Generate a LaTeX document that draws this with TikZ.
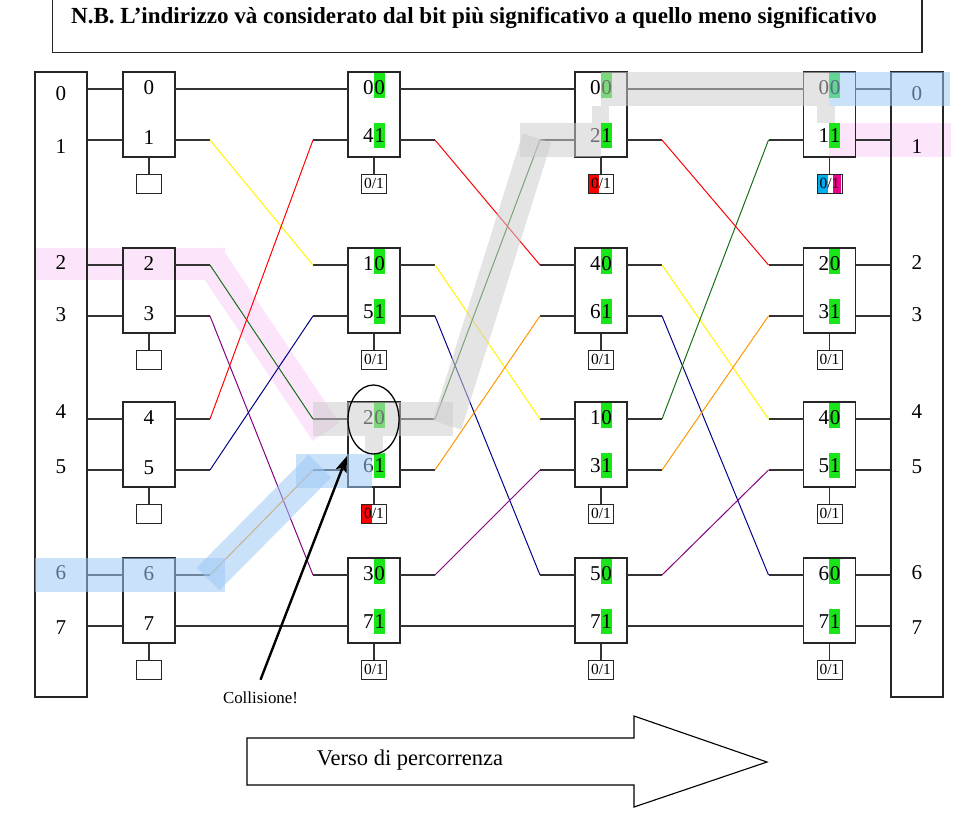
\documentclass[tikz,border=0pt]{standalone}
\usepackage{fontspec}
\setmainfont{Liberation Serif}
\usetikzlibrary{calc,shapes.geometric,arrows.meta}

\definecolor{hlgreen}{RGB}{24,230,24}
\definecolor{hlblue}{RGB}{158,200,246}
\definecolor{hlgray}{RGB}{205,205,205}
\definecolor{hlpink}{RGB}{252,228,251}
\definecolor{wyellow}{RGB}{255,245,0}
\definecolor{wred}{RGB}{255,0,0}
\definecolor{wnavy}{RGB}{0,0,140}
\definecolor{wpurple}{RGB}{128,0,128}
\definecolor{wgreen}{RGB}{20,110,20}
\definecolor{worange}{RGB}{255,150,0}

% one hop between two stages: short stubs, coloured slant
\newcommand{\hop}[3]{%
  \draw[link] (#1) -- ++(35,0);
  \draw[link] (#2) -- ++(-35,0);
  \draw[wire,#3] ($(#1)+(35,0)$) -- ($(#2)+(-35,0)$);
}

\begin{document}
\begin{tikzpicture}[x=0.025cm, y=-0.025cm,
  switchbox/.style={draw=black!85, line width=0.9pt, minimum width=1.3cm, minimum height=2.125cm, inner sep=0pt},
  colbox/.style={draw=black!85, line width=0.9pt, minimum width=1.3cm, minimum height=15.625cm, inner sep=0pt},
  bitbox/.style={draw=black!85, line width=0.7pt, minimum width=0.625cm, minimum height=0.475cm, inner sep=0pt, font=\fontsize{11}{11}\selectfont},
  digit/.style={inner sep=0pt, font=\fontsize{15}{15}\selectfont},
  link/.style={draw=black!80, line width=0.9pt},
  wire/.style={line width=0.7pt},
  glow/.style={opacity=0.55}]

\useasboundingbox (0,0) rectangle (979,817);

% the note at the top
\node[draw=black!85, line width=0.9pt, minimum width=21.725cm, minimum height=1.5cm, anchor=south west] (notebox) at (52,53) {};
\node[font=\bfseries\fontsize{16.4}{18}\selectfont] (nota) at (474,18) {N.B. L’indirizzo và considerato dal bit più significativo a quello meno significativo};

% pink route (behind everything)
\fill[hlpink] (35,248) rectangle (225,280);
\draw[hlpink, line width=0.8cm] (208,256) -- (326,432);
\fill[hlpink] (829,123) rectangle (951,157);

% green bits and coloured flags
\foreach \xx in {374,601,829.5}
  \foreach \yy in {72,248,402,558} {
    \fill[hlgreen] (\xx-0.5,\yy) rectangle (\xx+10.5,\yy+26);
    \fill[hlgreen] (\xx-0.5,\yy+51) rectangle (\xx+10.5,\yy+76);
  }
\fill[wred] (361.5,504) rectangle (371.5,523);
\fill[wred] (588.5,174) rectangle (598.5,193);
\fill[cyan] (817,174) rectangle (827.5,193);
\fill[magenta] (832.5,174) rectangle (840.5,193);

% input and output columns
\node[colbox] (incol) at (61,384.5) {};
\node[colbox] (outcol) at (917,384.5) {};
\foreach \n/\yy in {0/94,1/147,2/263,3/315,4/412,5/467,6/573,7/628} {
  \node[digit] (in\n) at (61,\yy) {\n};
  \node[digit] (out\n) at (917,\yy) {\n};
}

% switches of the four stages
\foreach \st/\xx in {0/149,1/374,2/601,3/829.5}
  \foreach \bx/\yy/\hi/\lo in {1/72/0/1,2/248/2/3,3/402/4/5,4/558/6/7} {
    \node[switchbox] (sw\st\bx) at (\xx,\yy+42.5) {};
    \coordinate (l\st\hi) at (\xx-26,\yy+17);
    \coordinate (l\st\lo) at (\xx-26,\yy+68);
    \coordinate (r\st\hi) at (\xx+26,\yy+17);
    \coordinate (r\st\lo) at (\xx+26,\yy+68);
  }

% flag boxes
\foreach \bx/\yy in {1/72,2/248,3/402,4/558} {
  \node[bitbox] (bx0\bx) at (149,\yy+111.5) {};
  \draw[link] (sw0\bx.south) -- (bx0\bx.north);
}
\foreach \st/\xx in {1/374,2/601,3/829.5}
  \foreach \bx/\yy in {1/72,2/248,3/402,4/558} {
    \node[bitbox] (bx\st\bx) at (\xx,\yy+111.5) {0/1};
    \draw[link] (sw\st\bx.south) -- (bx\st\bx.north);
  }

% labels inside the switches
\foreach \yy/\hi/\lo in {72/0/1,248/2/3,402/4/5,558/6/7} {
  \node[digit] (lab0\hi) at (149,\yy+15.5) {\hi};
  \node[digit] (lab0\lo) at (149,\yy+66) {\lo};
}
\foreach \st/\xx/\hi/\lo/\yy in {1/374/0/4/72, 1/374/1/5/248, 1/374/2/6/402, 1/374/3/7/558,
    2/601/0/2/72, 2/601/4/6/248, 2/601/1/3/402, 2/601/5/7/558,
    3/829.5/0/1/72, 3/829.5/2/3/248, 3/829.5/4/5/402, 3/829.5/6/7/558} {
  \node[digit, anchor=east] (lab\st\hi) at (\xx,\yy+15.5) {\hi};
  \node[digit, anchor=west] (bit\st\hi) at (\xx,\yy+15.5) {0};
  \node[digit, anchor=east] (lab\st\lo) at (\xx,\yy+64) {\lo};
  \node[digit, anchor=west] (bit\st\lo) at (\xx,\yy+64) {1};
}

% columns to first stage, last stage to columns
\foreach \p in {0,...,7} {
  \draw[link] (l0\p -| incol.east) -- (l0\p);
  \draw[link] (r3\p) -- (r3\p -| outcol.west);
}

% shuffle links
\foreach \st/\nx in {0/1,1/2,2/3} {
  \draw[link] (r\st0) -- (l\nx0);
  \draw[link] (r\st7) -- (l\nx7);
}
\foreach \src/\dst/\col in {1/2/wyellow,2/4/wgreen,3/6/wpurple,4/1/wred,5/3/wnavy,6/5/worange} {
  \hop{r0\src}{l1\dst}{\col}
}
\foreach \src/\dst/\col in {1/2/wred,2/4/wyellow,3/6/wnavy,4/1/wgreen,5/3/worange,6/5/wpurple} {
  \hop{r1\src}{l2\dst}{\col}
  \hop{r2\src}{l3\dst}{\col}
}

% blue route
\fill[hlblue, glow] (35,558) rectangle (225,592);
\draw[hlblue, glow, line width=0.8cm] (208,579) -- (320,466);
\fill[hlblue, glow] (296,454) rectangle (372,488);
\fill[hlblue, glow] (829,72) rectangle (950,106);

% gray route
\fill[hlgray, glow] (313,402) rectangle (453,436);
\fill[hlgray, glow] (365,436) rectangle (383,454);
\draw[hlgray, glow, line width=0.75cm] (447,425) -- (537,138);
\fill[hlgray, glow] (520,123) rectangle (601,157);
\fill[hlgray, glow] (592,106) rectangle (609,123);
\fill[hlgray, glow] (601,72) rectangle (829,106);
\fill[hlgray, glow] (817,106) rectangle (835,123);

% the collision
\node[ellipse, draw, line width=0.9pt, minimum width=1.275cm, minimum height=1.725cm, inner sep=0pt] (collide) at (373.5,419.5) {};
\node[font=\fontsize{12}{12}\selectfont, inner sep=0pt] (collis) at (260.5,698) {Collisione!};
\coordinate (hit) at (347,456);
\draw[line width=1.7pt, -{Stealth[length=4mm,width=2.8mm,inset=0.8mm]}] ($(collis.north)+(0,-12)$) -- (hit);

% direction arrow
\draw[line width=0.8pt, fill=white] (247,738) -- (634,738) -- (634,716) -- (767,762) -- (634,807) -- (634,785) -- (247,785) -- cycle;
\node[font=\fontsize{16}{18}\selectfont] (verso) at (410,760) {Verso di percorrenza};

\end{tikzpicture}
\end{document}
